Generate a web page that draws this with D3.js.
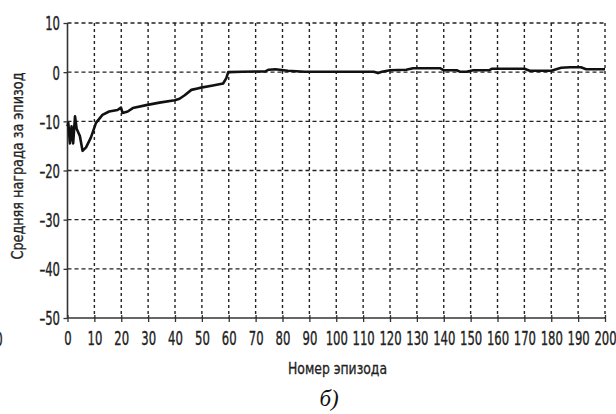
<!DOCTYPE html>
<html>
<head>
<meta charset="utf-8">
<script src="https://cdn.jsdelivr.net/npm/d3@7"></script>
<style>
  body { margin: 0; background: #fff; }
  svg { display: block; }
</style>
</head>
<body>
<script>
// episode numbers and mean reward per episode
const episodes = [0, 0.3, 0.9, 1.5, 2.1, 2.8, 3.4, 4.6, 5.6, 6.9, 8.7, 10.6, 13, 15.5, 18.6, 19.9, 20.5, 22.4, 24.3,
  29.3, 34.2, 39.9, 41.7, 43.6, 46.1, 49.2, 54.1, 57.9, 59.1, 59.8, 65, 73.6, 74.9, 77.4, 82, 88.2,
  100, 114, 115.5, 117, 120, 126, 128.6, 138.6, 139.9, 144.8, 146, 148.4, 151, 157, 158, 170, 172,
  180, 183.7, 187, 191, 193, 200];
const rewards = [-11, -10.3, -14.5, -11, -14.5, -9, -11.5, -13, -16, -15.3, -13.3, -10.3, -8.7, -8, -7.7, -7.2, -8.3, -8, -7.3,
  -6.7, -6.2, -5.7, -5.4, -4.7, -3.6, -3.2, -2.7, -2.3, -1.2, 0, 0.1, 0.15, 0.5, 0.6, 0.3, 0.1,
  0.1, 0.1, -0.2, 0.1, 0.4, 0.5, 0.8, 0.8, 0.4, 0.4, 0.1, 0.1, 0.4, 0.4, 0.7, 0.7, 0.3,
  0.3, 0.9, 1.0, 1.0, 0.6, 0.6];
const xTicks = d3.range(0, 201, 10);
const yTicks = [10, 0, -10, -20, -30, -40, -50];

const width = 616, height = 414;
const margin = { top: 23, right: 11, bottom: 96, left: 67.5 };

const svg = d3.select('body').append('svg')
    .attr('width', width)
    .attr('height', height);

const x = d3.scaleLinear().domain([0, 200]).range([margin.left, width - margin.right]);
const y = d3.scaleLinear().domain([-50, 10]).range([height - margin.bottom, margin.top]);

const font = '"Liberation Sans Narrow", "DejaVu Sans Condensed", sans-serif';
const tickSize = 19;

// squeeze digits so each one is about 7.4px wide, like the condensed face in the picture
const probe = svg.append('text')
    .attr('font-family', font)
    .attr('font-size', tickSize)
    .text('0000000000');
const sx = 7.4 / (probe.node().getComputedTextLength() / 10);
probe.remove();

// dashed grid
svg.append('g')
    .selectAll('line')
    .data(xTicks.filter(d => d > 0))
    .enter().append('line')
    .attr('x1', d => x(d)).attr('x2', d => x(d))
    .attr('y1', y(10)).attr('y2', y(-50))
    .attr('stroke', '#222')
    .attr('stroke-width', 1.4)
    .attr('stroke-dasharray', '3,3');

svg.append('g')
    .selectAll('line')
    .data(yTicks.filter(d => d > -50))
    .enter().append('line')
    .attr('x1', x(0)).attr('x2', x(200))
    .attr('y1', d => y(d)).attr('y2', d => y(d))
    .attr('stroke', '#222')
    .attr('stroke-width', 1.4)
    .attr('stroke-dasharray', '4,3');

// axes
const yAxis = svg.append('g')
    .attr('transform', `translate(${x(0)},0)`)
    .call(d3.axisLeft(y).tickValues(yTicks).tickSize(4).tickFormat(d => d < 0 ? '–' + Math.abs(d) : d));

const xAxis = svg.append('g')
    .attr('transform', `translate(0,${y(-50)})`)
    .call(d3.axisBottom(x).tickValues(xTicks).tickSize(4));

[yAxis, xAxis].forEach(g => {
  g.select('.domain').attr('stroke', '#333').attr('stroke-width', 1.6);
  g.selectAll('.tick line').attr('stroke', '#333').attr('stroke-width', 1.3);
  g.selectAll('.tick text')
      .attr('font-family', font)
      .attr('font-size', tickSize)
      .attr('fill', '#222')
      .attr('stroke', '#222')
      .attr('stroke-width', 0.35)
      .attr('transform', `scale(${sx},1)`);
});
yAxis.select('.domain').attr('d', `M0,${y(10)}V${y(-50)}`);
xAxis.select('.domain').attr('d', `M${x(0)},0H${x(200)}`);
xAxis.selectAll('.tick line').attr('y1', -3).attr('y2', 4);
yAxis.selectAll('.tick text')
    .attr('x', -7.5 / sx)
    .attr('dy', '0.36em');
xAxis.selectAll('.tick text')
    .attr('y', 14);

// data line
const line = d3.line()
    .x((d, i) => x(episodes[i]))
    .y(d => y(d));

svg.append('path')
    .datum(rewards)
    .attr('d', line)
    .attr('fill', 'none')
    .attr('stroke', '#111')
    .attr('stroke-width', 2.6)
    .attr('stroke-linejoin', 'round');

// axis titles
svg.append('text')
    .attr('transform', `translate(23,166) rotate(-90)`)
    .attr('text-anchor', 'middle')
    .attr('font-family', font)
    .attr('font-size', 16)
    .attr('fill', '#222')
    .attr('stroke', '#222')
    .attr('stroke-width', 0.3)
    .attr('textLength', 187)
    .attr('lengthAdjust', 'spacingAndGlyphs')
    .text('Средняя награда за эпизод');

svg.append('text')
    .attr('x', 337.5)
    .attr('y', 374)
    .attr('text-anchor', 'middle')
    .attr('font-family', font)
    .attr('font-size', 16)
    .attr('fill', '#222')
    .attr('stroke', '#222')
    .attr('stroke-width', 0.3)
    .attr('textLength', 99)
    .attr('lengthAdjust', 'spacingAndGlyphs')
    .text('Номер эпизода');

svg.append('text')
    .attr('x', 329)
    .attr('y', 406)
    .attr('text-anchor', 'middle')
    .attr('font-family', '"Liberation Serif", serif')
    .attr('font-style', 'italic')
    .attr('font-size', 23)
    .attr('fill', '#111')
    .text('б)');

// fragment of the neighbouring chart's label at the left edge
svg.append('text')
    .attr('x', 4)
    .attr('y', 346)
    .attr('text-anchor', 'end')
    .attr('font-family', font)
    .attr('font-size', tickSize)
    .attr('fill', '#222')
    .attr('stroke', '#222')
    .attr('stroke-width', 0.35)
    .attr('transform', `scale(${sx},1)`)
    .text('0');
</script>
</body>
</html>
